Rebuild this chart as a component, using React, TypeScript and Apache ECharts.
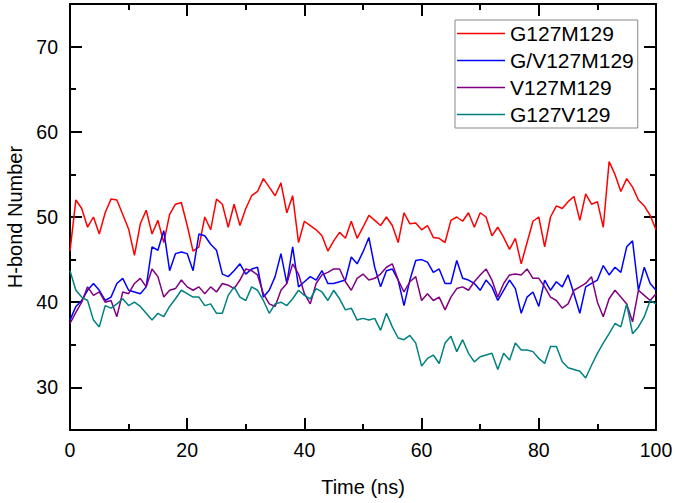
import React, { useEffect, useRef } from "react";
import * as echarts from "echarts";

const seriesNames = ["G127M129", "G/V127M129", "V127M129", "G127V129"];
const seriesColors = ["#ff0000", "#0000ff", "#800080", "#008080"];

// H-bond number sampled every 1 ns (t = 0..100)
const redValues = [
  46, 52, 51, 48.8, 50, 48, 50.5, 52.1, 52, 50.3,
  48.6, 45.5, 49.2, 50.8, 48, 49.6, 47, 50.3, 51.5, 51.7,
  49, 46, 46.5, 50, 48.5, 52.1, 51.5, 48.8, 51.5, 49,
  51, 52.5, 53, 54.5, 53.5, 52.5, 54, 50.5, 52.5, 47,
  49.5, 49, 48.5, 47.8, 46, 47.2, 48.2, 47.5, 49.5, 47.5,
  48.8, 50.2, 49.6, 49, 50, 49, 47, 50.5, 49.2, 49.3,
  48.5, 49, 47.6, 47.5, 47, 49.6, 50, 49.5, 50.5, 48.8,
  50.5, 50, 47.8, 48.8, 47.6, 46.2, 47.5, 44.5, 47, 49.5,
  50, 46.5, 50, 51.3, 51, 51.8, 52.4, 49.6, 52.7, 51.5,
  51.8, 48.8, 56.5, 55, 53, 54.5, 53.5, 52, 51.3, 50.2,
  48.5,
];
const blueValues = [
  37.9, 39.5, 40.2, 41.4, 42.2, 41.4, 40.2, 40.6, 42.2, 42.8,
  41.4, 41.2, 41, 41.8, 46.5, 46.1, 48.4, 43.7, 45.7, 45.9,
  45.7, 43.7, 48, 47.8, 46.8, 46.1, 43.3, 43, 43.7, 44.5,
  43.3, 43.9, 44.1, 40.6, 41.4, 43, 45.7, 42.2, 46.5, 41.8,
  42.4, 43, 42.6, 43.7, 42.2, 42.2, 42.4, 42.6, 45.3, 44.5,
  45.9, 47.6, 44.1, 41.8, 43.7, 43.9, 42.6, 39.6, 42.6, 44.9,
  45, 44.7, 43.5, 43.9, 42.2, 42.2, 44.9, 42.8, 42.6, 42.2,
  41.4, 42.6, 41.8, 40.2, 41.4, 42.6, 41.6, 38.7, 40.6, 41.2,
  39.5, 42.6, 41.4, 42.4, 41.8, 43.2, 41, 38.7, 41.8, 42.2,
  42.6, 44.3, 43.2, 44.1, 43.5, 46.5, 47.2, 41.4, 44.1, 42.2,
  41.4,
];
const purpleValues = [
  37.5, 38.8, 40, 41.8, 40.8, 41.2, 40, 40.2, 38.3, 41.2,
  41, 42.2, 42.8, 41.8, 43.9, 43, 40.6, 41.4, 41.6, 42.6,
  41.8, 41.4, 41.8, 41, 41.8, 41.2, 42.2, 42, 41.6, 42.6,
  43.9, 43.7, 43.2, 41, 39.8, 39.5, 41.4, 42.2, 44.5, 43.3,
  41, 39.8, 42.2, 43.2, 43.5, 43.9, 43.9, 42.4, 41.4, 42.8,
  43.3, 42.6, 42.8, 43.3, 44.1, 44.5, 42.6, 41.2, 42.4, 43,
  40.2, 41, 40.2, 40.6, 39.1, 40.6, 41.6, 41.8, 41.4, 42.4,
  43.2, 43.9, 42.6, 40.6, 42.2, 43.2, 43.3, 43.2, 43.9, 42.8,
  42.8, 41.8, 40.6, 40.2, 39.3, 39.8, 41.4, 41.8, 42.2, 43,
  40, 38.3, 40.4, 41.4, 40.6, 39.8, 37.7, 41.4, 40.8, 40.2,
  41,
];
const tealValues = [
  43.7, 41.4, 40.6, 40.2, 37.9, 37.1, 39.6, 39.3, 39.8, 40.4,
  39.6, 40, 39.5, 38.7, 37.9, 38.7, 38.3, 39.5, 40.4, 41.4,
  41, 40.6, 40.6, 39.6, 39.8, 38.7, 38.7, 40.8, 41.8, 40.6,
  40.2, 41.8, 41.4, 40.2, 38.7, 39.8, 40, 39.6, 40.4, 41.4,
  40.8, 40.4, 41.6, 41.2, 40.2, 41.4, 40.4, 39.1, 39.3, 37.9,
  38.1, 37.9, 38.1, 36.7, 38.7, 37.1, 35.8, 35.6, 36.1, 35.2,
  32.5, 33.4, 33.8, 32.8, 35.2, 36, 34.2, 35.6, 34, 33,
  33.6, 33.8, 34, 32.1, 34, 33.2, 35.2, 34.4, 34.4, 34.2,
  33.4, 32.8, 34.8, 34.8, 33, 32.3, 32.1, 31.9, 31.1, 32.6,
  34, 35.2, 36.3, 37.5, 37.1, 39.8, 36.3, 37.1, 38.3, 40.2,
  39.8,
];

const yMajorTicks = [30, 40, 50, 60, 70];
const yMinorTicks = [35, 45, 55, 65];
const xMajorTicks = [0, 20, 40, 60, 80, 100];
const xMinorTicks = [10, 30, 50, 70, 90];

const FONT = "'Liberation Sans', Arial, sans-serif";

export default function App() {
  const ref = useRef<HTMLDivElement>(null);

  useEffect(() => {
    if (!ref.current) return;
    const chart = echarts.init(ref.current, undefined, { renderer: "svg" });
    const all = [redValues, blueValues, purpleValues, tealValues];

    const lineStyle = { color: "#000", width: 2 };
    const makeX = (position: string, ticks: number[], len: number, showLine: boolean, showLabel: boolean, name?: string) => ({
      type: "value",
      position,
      min: 0,
      max: 100,
      name: name || "",
      nameLocation: "middle",
      nameGap: 47,
      nameTextStyle: { fontSize: 20, color: "#000", fontFamily: FONT },
      axisLine: { show: showLine, onZero: false, lineStyle },
      axisTick: { show: true, inside: true, length: len, customValues: ticks, lineStyle: { color: "#000", width: 2 } },
      axisLabel: { show: showLabel, customValues: ticks, fontSize: 19.5, color: "#000", fontFamily: FONT, margin: 10 },
      splitLine: { show: false },
    });
    const makeY = (position: string, ticks: number[], len: number, showLine: boolean, showLabel: boolean, name?: string) => ({
      type: "value",
      position,
      min: 25,
      max: 75,
      name: name || "",
      nameLocation: "middle",
      nameGap: 45,
      nameTextStyle: { fontSize: 20, color: "#000", fontFamily: FONT },
      axisLine: { show: showLine, onZero: false, lineStyle },
      axisTick: { show: true, inside: true, length: len, customValues: ticks, lineStyle: { color: "#000", width: 2 } },
      axisLabel: { show: showLabel, customValues: ticks, fontSize: 19.5, color: "#000", fontFamily: FONT, margin: 12 },
      splitLine: { show: false },
    });

    chart.setOption({
      animation: false,
      backgroundColor: "#fff",
      textStyle: { fontFamily: FONT },
      grid: { left: 70, right: 19, top: 4, bottom: 73, containLabel: false, outerBoundsMode: "none" },
      xAxis: [
        makeX("bottom", xMajorTicks, 12, true, true, "Time (ns)"),
        makeX("top", xMajorTicks, 12, true, false),
        makeX("bottom", xMinorTicks, 6, false, false),
        makeX("top", xMinorTicks, 6, false, false),
      ],
      yAxis: [
        makeY("left", yMajorTicks, 12, true, true, "H-bond Number"),
        makeY("right", yMajorTicks, 12, true, false),
        makeY("left", yMinorTicks, 6, false, false),
        makeY("right", yMinorTicks, 6, false, false),
      ],
      legend: {
        data: seriesNames.map((n) => ({ name: n, icon: "rect" })),
        orient: "vertical",
        left: 455,
        top: 20,
        itemWidth: 48,
        itemHeight: 1.6,
        itemGap: 6,
        padding: [3, 4, 3, 2],
        borderColor: "#888",
        borderWidth: 1,
        textStyle: { fontSize: 21, lineHeight: 20, color: "#000", fontFamily: FONT },
      },
      series: all.map((vals, si) => ({
        name: seriesNames[si],
        type: "line",
        xAxisIndex: 0,
        yAxisIndex: 0,
        symbol: "none",
        color: seriesColors[si],
        itemStyle: { color: seriesColors[si] },
        lineStyle: { width: 1.5, color: seriesColors[si] },
        data: vals.map((v, i) => [i, v]),
      })),
    });
    return () => chart.dispose();
  }, []);

  return (
    <div
      ref={ref}
      style={{ position: "fixed", left: 0, top: 0, width: 675, height: 503, background: "#fff" }}
    />
  );
}
